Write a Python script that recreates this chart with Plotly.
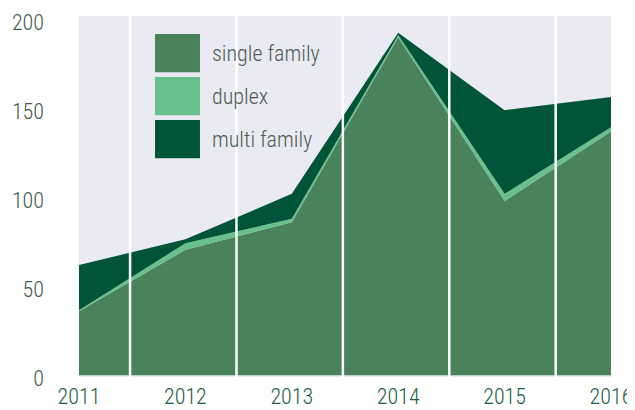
import plotly.graph_objects as go

# ---- data ----
years = [2011, 2012, 2013, 2014, 2015, 2016]
single_family = [36, 70.5, 86, 190, 98, 137]
duplex = [0.5, 3.7, 2, 1.3, 4, 2.5]
multi_family = [25.5, 2.2, 14, 1.3, 47, 17]
series_names = ["single family", "duplex", "multi family"]
y_tick_values = [0, 50, 100, 150, 200]
y_tick_labels = ["0", "50", "100", "150", "200"]
x_tick_labels = ["2011", "2012", "2013", "2014", "2015", "2016"]
grid_positions = [2011.48, 2012.48, 2013.48, 2014.48, 2015.48]

# ---- styles ----
colors = ["#4A825C", "#68C08C", "#005438"]
BG = "#EAEAF2"
FONT = "Roboto Condensed, Liberation Sans Narrow, DejaVu Sans Condensed, sans-serif"

fig = go.Figure()
for name, vals, col in zip(series_names, [single_family, duplex, multi_family], colors):
    fig.add_trace(go.Scatter(
        x=years, y=vals, name=name, stackgroup="one", mode="lines",
        line=dict(width=0, color=col), fillcolor=col, showlegend=False,
        hoverinfo="skip"))

# white vertical separators above the areas
for gx in grid_positions:
    fig.add_shape(type="line", xref="x", yref="paper", x0=gx, x1=gx, y0=0, y1=1,
                  line=dict(color="white", width=2.5), layer="above")

# manual legend (large square swatches)
sw_x0, sw_x1 = 0.1429, 0.2274
top, h, gap = 0.950, 0.106, 0.119
for i, (name, col) in enumerate(zip(series_names, colors)):
    y1 = top - i * gap
    y0 = y1 - h
    fig.add_shape(type="rect", xref="paper", yref="paper", x0=sw_x0, x1=sw_x1,
                  y0=y0, y1=y1, fillcolor=col, line=dict(width=0), layer="above")
    fig.add_annotation(xref="paper", yref="paper", x=0.246, y=(y0 + y1) / 2,
                       text=name, showarrow=False, xanchor="left", yanchor="middle",
                       font=dict(family=FONT, size=22, color="#4B5D55", weight=300))

# page body adds an 8px offset, so the figure is sized to fit the window
fig.update_layout(
    width=627, height=402,
    margin=dict(l=71, r=24, t=8, b=33),
    paper_bgcolor="white", plot_bgcolor=BG,
    showlegend=False,
    xaxis=dict(range=[2011, 2016], tickvals=years, ticktext=x_tick_labels,
               showgrid=False, zeroline=False, showline=False, ticks="",
               automargin=False, ticklabeloverflow="allow",
               tickfont=dict(family=FONT, size=22, color="#1B5E45", weight=300),
               ticklabelstandoff=4),
    yaxis=dict(range=[-1, 202], tickvals=y_tick_values, ticktext=y_tick_labels,
               showgrid=False, zeroline=False, showline=False, ticks="",
               automargin=False, ticklabeloverflow="allow",
               tickfont=dict(family=FONT, size=22, color="#3F5A4C", weight=300),
               ticklabelstandoff=34, ticklabelshift=3),
)

fig.write_html("out.html")
